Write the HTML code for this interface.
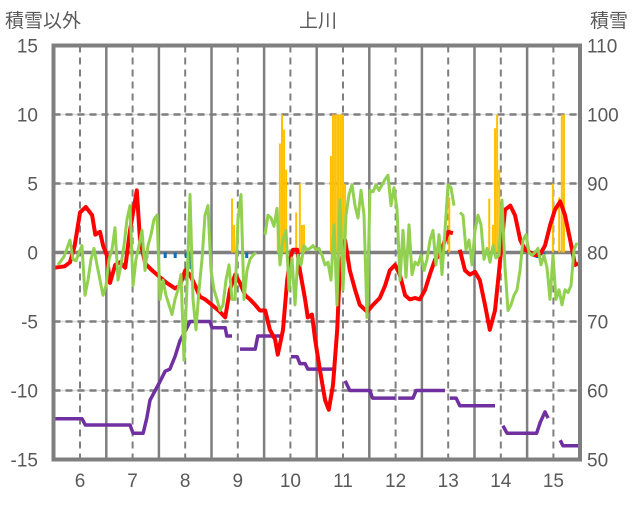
<!DOCTYPE html>
<html><head><meta charset="utf-8"><style>
html,body{margin:0;padding:0;background:#fff;}
svg text{font-family:"Liberation Sans","Noto Sans CJK JP",sans-serif;fill:#595959;}
</style></head><body>
<svg id="chart" width="636" height="501" viewBox="0 0 636 501" xmlns="http://www.w3.org/2000/svg">
<text x="5" y="27" font-size="19">積雪以外</text>
<text x="318" y="27" font-size="19" text-anchor="middle">上川</text>
<text x="590" y="27" font-size="19">積雪</text>
<g id="grid"></g>
<g id="bars"></g>
<g id="lines"></g>
<g id="axes"></g>
</svg>
<script>
const leftTicks=[15,10,5,0,-5,-10,-15];
const rightTicks=[110,100,90,80,70,60,50];
const monthLabels=[6,7,8,9,10,11,12,13,14,15];
const redT=[5.52,5.71,5.81,5.90,6.0,6.11,6.23,6.29,6.38,6.44,6.51,6.57,6.67,6.76,6.86,6.95,7.08,7.14,7.24,7.37,7.52,7.65,7.81,7.90,8.0,8.09,8.19,8.28,8.38,8.51,8.66,8.76,8.85,8.95,9.04,9.14,9.23,9.33,9.42,9.52,9.61,9.71,9.76,9.86,9.94,9.99,10.05,10.13,10.18,10.28,10.33,10.41,10.47,10.56,10.66,10.73,10.81,10.89,10.94,11.04,11.13,11.23,11.32,11.46,11.57,11.70,11.80,11.89,11.99,12.08,12.18,12.27,12.37,12.46,12.56,12.65,12.75,12.84,12.94,13.0,13.09,13.15,13.22,13.32,13.41,13.51,13.60,13.70,13.79,13.89,13.98,14.08,14.18,14.27,14.37,14.46,14.56,14.65,14.75,14.84,14.94,15.03,15.13,15.22,15.32,15.41,15.47];
const redV=[-1.1,-1.0,-0.7,0.5,2.9,3.3,2.7,1.3,1.5,0.5,-0.2,-2.2,-0.9,-0.7,-1.1,1.6,4.5,0.9,-0.8,-1.3,-1.8,-2.2,-2.6,-2.4,-1.3,-1.6,-2.4,-3.2,-3.4,-3.8,-4.3,-4.7,-2.7,-1.6,-2.2,-3.1,-3.4,-3.8,-4.2,-4.2,-5.6,-6.3,-7.4,-5.6,-2.0,-0.5,0.2,0.2,-1.3,-3.4,-4.7,-4.5,-6.3,-8.5,-10.7,-11.4,-9.6,-5.6,-1.3,0.9,-1.3,-2.7,-3.8,-4.3,-3.8,-3.3,-2.4,-1.3,-0.9,-1.6,-3.1,-3.4,-3.3,-3.4,-2.7,-1.6,-0.5,-0.2,0.9,1.5,1.4,null,0.2,-1.3,-1.6,-1.4,-2.0,-3.8,-5.6,-4.2,-0.9,3.1,3.4,2.7,0.9,0.2,0.0,-0.2,-0.1,0.5,2.0,3.1,3.7,2.7,0.9,-0.9,-0.8];
const greenStart=5.582, greenStep=0.05703;
const greenV=[-0.9,-0.6,-0.3,0.3,0.9,-0.5,-0.6,0.0,0.5,-3.1,-2.0,-0.5,0.3,-0.9,-2.0,-3.1,-2.4,-0.5,0.2,1.8,-2.0,-0.9,0.5,2.4,3.4,-2.4,-0.5,0.5,1.6,-1.3,0.5,1.3,2.4,2.7,-3.4,-2.0,-3.1,-3.8,-4.5,-3.4,-2.7,-1.6,-7.8,-2.4,4.2,-3.4,-5.6,-2.7,-0.5,2.7,3.4,-1.3,-2.7,-3.4,-4.2,-3.8,-2.0,-0.9,-3.4,-3.4,2.4,4.2,-3.4,-1.3,-0.5,-0.2,0.0,
null,null,
1.3,2.7,2.5,1.9,3.2,-0.9,0.9,1.6,-2.7,-0.4,-3.8,-0.2,-0.9,0.5,0.2,0.3,0.5,0.2,0.3,-0.2,-0.9,-0.7,-2.0,2.0,-3.8,3.8,-2.7,2.7,4.2,4.9,3.4,2.5,4.5,2.7,-4.7,4.5,4.4,4.9,4.5,4.9,5.3,5.6,3.4,4.7,3.1,-2.0,1.6,-1.8,2.0,-1.6,-0.7,-0.9,-0.2,-1.3,-0.5,0.9,1.6,-0.9,1.3,-1.6,1.6,4.9,4.7,3.4,
null,
2.9,2.7,0.2,0.9,-0.9,1.6,2.7,2.0,-0.5,0.3,-0.7,0.5,-0.4,-0.2,3.8,-1.1,-4.2,-3.8,-3.1,-2.7,-1.3,0.9,1.3,0.0,-0.2,0.0,0.3,-0.9,-0.2,-1.1,-3.4,-0.2,-3.4,-2.7,-3.8,-2.7,-2.9,-2.4,0.2,0.7];
const purpleT=[5.49,6.04,6.10,6.95,7.01,7.20,7.27,7.33,7.43,7.52,7.62,7.71,7.81,7.90,8.00,8.09,8.47,8.51,8.76,8.79,8.89,null,9.04,9.33,9.38,9.86,null,10.01,10.13,10.18,10.28,10.33,10.87,null,11.04,11.13,11.51,11.56,11.99,null,12.05,12.33,12.39,12.94,null,13.03,13.15,13.22,13.89,null,14.04,14.12,14.68,14.75,14.84,14.90,null,15.13,15.18,15.47];
const purpleV=[55.9,55.9,55.0,55.0,53.8,53.8,56,58.6,60,61.3,62.8,63.1,65,67.2,68.6,70,70,69.1,69.1,67.9,67.9,null,66,66,67.9,67.9,null,64.9,64.9,63.9,63.9,63.1,63.1,null,61.4,60,60,58.9,58.9,null,58.9,58.9,60,60,null,58.9,58.9,57.8,57.8,null,54.9,53.8,53.8,55.4,56.9,56.0,null,52.8,52,52];
const snowT=[8.89,8.93,9.76,9.80,9.84,9.88,9.92,10.11,10.18,10.22,10.26,10.77,10.81,10.85,10.89,10.92,10.96,11.0,11.04,13.02,13.78,13.85,13.89,13.93,13.97,14.99,15.11,15.16,15.20];
const snowV=[3.9,2.0,1.6,7.9,10,8.9,6.0,2.9,5.0,2.0,2.0,7.0,10,10,10,10,10,10,5.0,4.0,3.9,2.0,9.0,10,6.0,5.0,4.0,10,10];
const blueT=[7.27,7.62,7.81,8.02,8.11,9.17,14.69,14.82];
const blueV=[-0.4,-0.4,-0.4,-0.4,-1.2,-0.4,-0.4,-0.4];

const NS='http://www.w3.org/2000/svg';
const X=t=>80+(t-6)*52.6;
const YL=v=>252.5-v*13.8;
const YR=v=>459.5-(v-50)*6.9;
const L=53.5,R=580,T=45.5,B=459.5;
function mk(tag,attrs,parent){const e=document.createElementNS(NS,tag);for(const k in attrs)e.setAttribute(k,attrs[k]);parent.appendChild(e);return e;}
const grid=document.getElementById('grid'),bars=document.getElementById('bars'),lines=document.getElementById('lines'),axes=document.getElementById('axes');
leftTicks.forEach(v=>{
  const y=YL(v);
  if(v!==0&&Math.abs(v)!==15){
    const g=mk('line',{x1:L,x2:R,y1:y,y2:y,stroke:'#d9d9d9','stroke-width':1.5},grid);
    
    
    const d=mk('line',{x1:L,x2:R,y1:y,y2:y,stroke:'#7f7f7f','stroke-width':2.5,'stroke-dasharray':'7 5'},grid);
    
    
  }
  const tx=mk('text',{x:38,y:y+7,'font-size':19,'text-anchor':'end'},axes);
  tx.textContent=v;
  
  
});
rightTicks.forEach(v=>{
  const tx=mk('text',{x:587,y:YR(v)+7,'font-size':19},axes);
  tx.textContent=v;
  
  
});
monthLabels.forEach(m=>{
  const x=X(m);
  const d=mk('line',{x1:x,x2:x,y1:T,y2:B,stroke:'#7f7f7f','stroke-width':2,'stroke-dasharray':'7 5'},grid);
  
  
  if(m<15){const xs=X(m+0.5);
    const s=mk('line',{x1:xs,x2:xs,y1:T,y2:B,stroke:'#7f7f7f','stroke-width':2.5},grid);
    
    }
  const tx=mk('text',{x:x,y:487,'font-size':19,'text-anchor':'middle'},axes);
  tx.textContent=m;
  
  
});
const z=mk('line',{x1:L,x2:R,y1:YL(0),y2:YL(0),stroke:'#7f7f7f','stroke-width':3.5},grid);


snowT.forEach((t,i)=>{
  const r=mk('rect',{x:X(t)-1,y:YL(snowV[i]),width:2,height:YL(0)-YL(snowV[i]),fill:'#ffc000'},bars);
  
  
});
blueT.forEach((t,i)=>{
  const r=mk('rect',{x:X(t)-1.5,y:YL(0),width:3,height:YL(blueV[i])-YL(0),fill:'#0070c0'},bars);
  
  
});
function path(ts,vs,ys){let d='',pen=false;for(let i=0;i<vs.length;i++){if(vs[i]===null||ts[i]===null){pen=false;continue;}d+=(pen?'L':'M')+X(ts[i]).toFixed(1)+' '+ys(vs[i]).toFixed(1);pen=true;}return d;}
const pp=mk('path',{d:path(purpleT,purpleV,YR),fill:'none',stroke:'#7030a0','stroke-width':3.5,'stroke-linejoin':'round'},lines);


const rp=mk('path',{d:path(redT,redV,YL),fill:'none',stroke:'#ff0000','stroke-width':4,'stroke-linejoin':'round'},lines);


const greenT=greenV.map((v,i)=>greenStart+i*greenStep);
const gp=mk('path',{d:path(greenT,greenV,YL),fill:'none',stroke:'#92d050','stroke-width':3,'stroke-linejoin':'round'},lines);


const fr=mk('rect',{x:L,y:T,width:R-L,height:B-T,fill:'none',stroke:'#7f7f7f','stroke-width':4},axes);


</script>
</body></html>
